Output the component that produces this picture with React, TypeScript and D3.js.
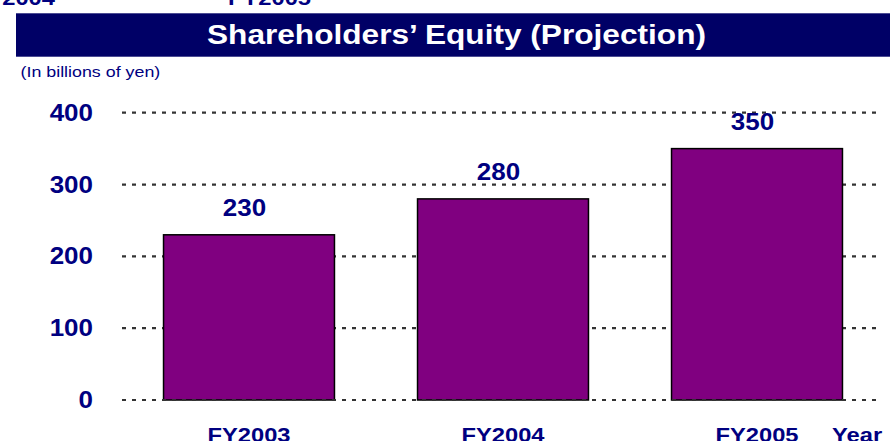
import React from "react";
import * as d3 from "d3";

const categories = ["FY2003", "FY2004", "FY2005"];
const values = [230, 280, 350];
const yTicks = [0, 100, 200, 300, 400];
const title = "Shareholders\u2019 Equity (Projection)";
const unitLabel = "(In billions of yen)";
const axisTitle = "Year";
const strayTopLabels = ["2004", "FY2005"];

const W = 890;
const H = 441;
const FONT = "'Liberation Sans', Arial, Helvetica, sans-serif";
const NAVY = "#000080";
const SX = 1.13;

function SText(props: {
  x: number;
  y: number;
  size: number;
  anchor?: string;
  weight?: string | number;
  fill?: string;
  sx?: number;
  children: React.ReactNode;
}) {
  const { x, y, size, anchor = "start", weight = "bold", fill = NAVY, sx = SX, children } = props;
  return (
    <text
      transform={`translate(${x},${y}) scale(${sx},1)`}
      fontFamily={FONT}
      fontSize={size}
      fontWeight={weight}
      fill={fill}
      textAnchor={anchor}
    >
      {children}
    </text>
  );
}

export default function App() {
  const x = d3
    .scaleBand<string>()
    .domain(categories)
    .range([122, 884])
    .paddingInner(0.327)
    .paddingOuter(0.1635);
  const y = d3.scaleLinear().domain([0, 400]).range([400, 112.7]);

  return (
    <svg
      width={W}
      height={H}
      viewBox={`0 0 ${W} ${H}`}
      style={{ position: "absolute", left: 0, top: 0, background: "#fff" }}
    >
      <rect x={0} y={0} width={W} height={H} fill="#fff" />
      {/* stray labels cut at top, as in the reference */}
      <SText x={55} y={5} size={21} anchor="end">{strayTopLabels[0]}</SText>
      <SText x={269.5} y={5} size={21} anchor="middle">{strayTopLabels[1]}</SText>

      {/* title bar */}
      <rect x={16} y={13.3} width={W - 16} height={43.4} fill="#000066" />
      <SText x={456.5} y={44.3} size={28} anchor="middle" fill="#fff">{title}</SText>

      <SText x={20.5} y={77} size={15} weight="normal" sx={1.19}>{unitLabel}</SText>

      {/* gridlines (non-zero) */}
      {yTicks.filter((t) => t !== 0).map((t) => (
        <line
          key={"g" + t}
          x1={122}
          x2={882}
          y1={y(t)}
          y2={y(t)}
          stroke="#333"
          strokeWidth={2.2}
          strokeDasharray="4 6"
        />
      ))}

      {/* bars */}
      {categories.map((c, i) => (
        <rect
          key={c}
          x={x(c)!}
          y={y(values[i])}
          width={x.bandwidth()}
          height={y(0) - y(values[i])}
          fill="#800080"
          stroke="#000"
          strokeWidth={1.5}
        />
      ))}

      {/* zero line */}
      <line
        x1={122}
        x2={882}
        y1={y(0)}
        y2={y(0)}
        stroke="#333"
        strokeWidth={2.2}
        strokeDasharray="4 6"
      />

      {/* tick labels */}
      {yTicks.map((t) => (
        <SText key={"t" + t} x={93} y={y(t) + 8} size={23} anchor="end">
          {String(t)}
        </SText>
      ))}

      {/* value labels */}
      {categories.map((c, i) => (
        <SText
          key={"v" + c}
          x={x(c)! + x.bandwidth() / 2 - 4.5}
          y={y(values[i]) - 19}
          size={23}
          anchor="middle"
        >
          {String(values[i])}
        </SText>
      ))}

      {/* category labels */}
      {categories.map((c) => (
        <SText key={"c" + c} x={x(c)! + x.bandwidth() / 2} y={442} size={21} anchor="middle">
          {c}
        </SText>
      ))}
      <SText x={832} y={442} size={21}>{axisTitle}</SText>
    </svg>
  );
}
